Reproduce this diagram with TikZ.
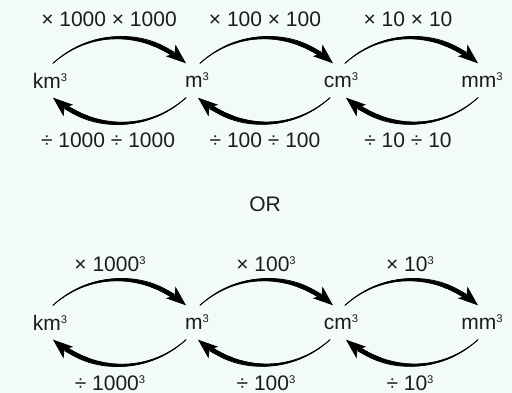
\documentclass[tikz,border=0pt]{standalone}
\usepackage{fontspec}
\setmainfont{Liberation Sans}
\usetikzlibrary{arrows.meta, decorations.markings}

\definecolor{bgcol}{RGB}{242,250,250}
\definecolor{inkcol}{RGB}{28,28,28}

% small raised cube sign
\newcommand{\cubed}{\raisebox{7pt}{\fontsize{11.2}{12}\selectfont 3}}

\begin{document}
\begin{tikzpicture}[
  x=1pt, y=-1pt,
  font=\fontsize{21}{25}\selectfont,
  text=inkcol,
  unit/.style={inner sep=0pt, minimum height=34pt},
  lbl/.style={inner sep=0pt, anchor=base},
  conv/.style={line width=0.8pt, -{Stealth[length=20pt, width=15pt, inset=5pt]},
    postaction={decorate, decoration={markings,
      mark=between positions 0 and 0.88 step 0.5pt with {
        \pgfmathsetmacro\taper{0.4+2.2*\pgfkeysvalueof{/pgf/decoration/mark info/distance from start}/\pgfdecoratedpathlength}
        \fill (0,0) circle (\taper pt);}}}}
]
  \useasboundingbox (0,0) rectangle (512,393);
  \fill[bgcol] (0,0) rectangle (512,393);

  % the two rows of units with their arrows
  \foreach \r/\y in {a/80.5, b/322.5} {
    \node[unit] (km\r) at (50,\y) {km\cubed};
    \node[unit] (m\r) at (197,\y) {m\cubed};
    \node[unit] (cm\r) at (341,\y) {cm\cubed};
    \node[unit] (mm\r) at (482,\y) {mm\cubed};

    \draw[conv] ([xshift=3pt]km\r.north) to[out=42,in=140] ([xshift=-11pt]m\r.north);
    \draw[conv] ([xshift=3pt]m\r.north) to[out=42,in=140] ([xshift=-8pt]cm\r.north);
    \draw[conv] ([xshift=4pt]cm\r.north) to[out=42,in=140] ([xshift=-4pt]mm\r.north);

    \draw[conv] ([xshift=-11pt]m\r.south) to[out=-138,in=-40] ([xshift=3pt]km\r.south);
    \draw[conv] ([xshift=-11pt]cm\r.south) to[out=-138,in=-40] ([xshift=1pt]m\r.south);
    \draw[conv] ([xshift=-4pt]mm\r.south) to[out=-138,in=-40] ([xshift=5pt]cm\r.south);
  }

  % labels, first row
  \node[lbl] (ta1) at (109,27) {× 1000 × 1000};
  \node[lbl] (ta2) at (265,27) {× 100 × 100};
  \node[lbl] (ta3) at (408,27) {× 10 × 10};
  \node[lbl] (ba1) at (108,148) {÷ 1000 ÷ 1000};
  \node[lbl] (ba2) at (265,148) {÷ 100 ÷ 100};
  \node[lbl] (ba3) at (408,148) {÷ 10 ÷ 10};

  \node[lbl] (or) at (265,212) {OR};

  % labels, second row
  \node[lbl] (tb1) at (110,272) {× 1000\cubed};
  \node[lbl] (tb2) at (266,272) {× 100\cubed};
  \node[lbl] (tb3) at (410,272) {× 10\cubed};
  \node[lbl] (bb1) at (110,390) {÷ 1000\cubed};
  \node[lbl] (bb2) at (266,390) {÷ 100\cubed};
  \node[lbl] (bb3) at (410,390) {÷ 10\cubed};
\end{tikzpicture}
\end{document}
